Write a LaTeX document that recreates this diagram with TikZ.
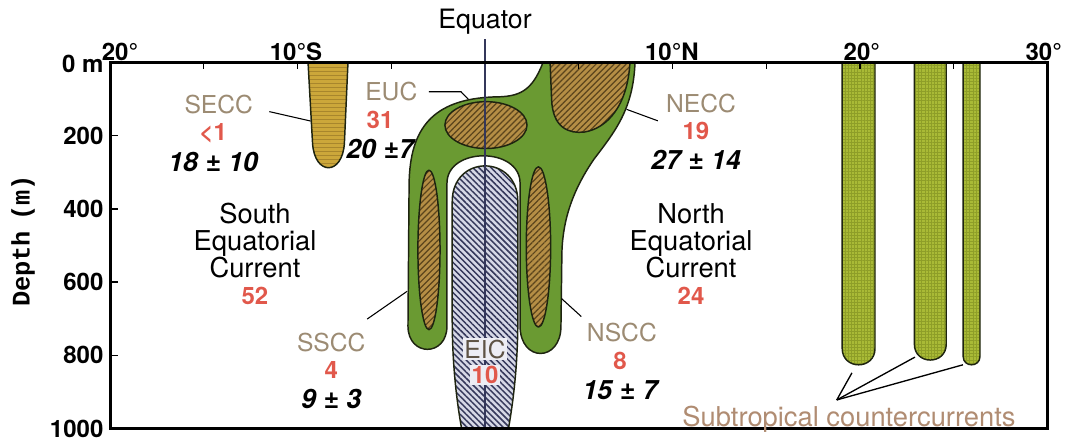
\documentclass[tikz,border=0pt]{standalone}
\usepackage{fontspec}
\setmainfont{TeX Gyre Heros}
\newfontfamily\assefont{Liberation Mono}
\usetikzlibrary{patterns.meta}

\definecolor{verdeCorr}{HTML}{6A9A32}
\definecolor{bronzo}{HTML}{B58E45}
\definecolor{bronzoScuro}{HTML}{5A441C}
\definecolor{ocra}{HTML}{CCA73A}
\definecolor{ocraScuro}{HTML}{A8862C}
\definecolor{oliva}{HTML}{A9BA36}
\definecolor{olivaScuro}{HTML}{8E9E28}
\definecolor{lavanda}{HTML}{D6D8E6}
\definecolor{bluInchiostro}{HTML}{34375A}
\definecolor{sabbia}{HTML}{9C8B73}
\definecolor{rossoPortata}{HTML}{E1584B}
\definecolor{rosaTitolo}{HTML}{B08C72}
\definecolor{bordo}{HTML}{1E2410}

\begin{document}
\begin{tikzpicture}[x=14.0625pt,y=-0.2745pt,
  contorno/.style={draw=bordo,line width=1.1pt,line join=round},
  nucleo/.style={contorno,preaction={fill=bronzo},
    pattern={Lines[angle=45,distance=3.2pt,line width=0.9pt]},pattern color=bronzoScuro},
  sigla/.style={text=sabbia,font=\fontsize{18.5}{20}\selectfont,inner sep=1pt},
  portata/.style={text=rossoPortata,font=\fontsize{18}{20}\selectfont\bfseries,inner sep=1pt},
  stima/.style={font=\fontsize{20}{22}\selectfont\bfseries\itshape,inner sep=1pt},
  descrizione/.style={align=center,font=\fontsize{20.5}{20.3}\selectfont},
  scala/.style={font=\fontsize{18}{20}\selectfont\bfseries,inner sep=2pt},
  guida/.style={line width=0.8pt}]

  % Ascissa in gradi di latitudine, ordinata in metri di profondita'
  \useasboundingbox (-25.87,-170.75) rectangle (31.04,1039.5);

  % Corpo verde: EUC in alto, due rami ai lati della EIC
  \draw[contorno,fill=verdeCorr] (3.09,0) -- (8.0,0)
    .. controls (7.9,130) and (6.9,190) .. (5.8,265)
    .. controls (4.8,340) and (4.15,420) .. (4.1,520)
    -- (4.05,720) .. controls (4.05,820) and (1.87,820) .. (1.87,720)
    -- (1.87,330) .. controls (1.87,230) and (-2.03,230) .. (-2.03,330)
    -- (-2.03,720) .. controls (-2.03,805) and (-4.11,805) .. (-4.11,720)
    -- (-4.05,330) .. controls (-4.0,180) and (-2.8,100) .. (0.5,94)
    .. controls (1.8,94) and (2.5,80) .. (3.09,0) -- cycle;

  % Nuclei tratteggiati
  \draw[nucleo] (0.05,171) ellipse (2.19 and 64);
  \draw[nucleo] (3.47,0) -- (3.55,100) .. controls (3.6,180) and (4.5,195) .. (5.3,190)
    .. controls (6.5,180) and (7.6,120) .. (7.73,0) -- cycle;
  \draw[nucleo] (-2.99,512) ellipse (0.59 and 218);
  \draw[nucleo] (2.85,504) ellipse (0.65 and 219);

  % Lingua intermedia, fino al fondo
  \draw[contorno,preaction={fill=lavanda},
    pattern={Lines[angle=-45,distance=3.2pt,line width=1.1pt]},pattern color=bluInchiostro]
    (-1.25,1000) .. controls (-1.6,900) and (-1.75,800) .. (-1.75,700) -- (-1.75,380)
    .. controls (-1.75,250) and (1.75,250) .. (1.75,380) -- (1.75,700)
    .. controls (1.75,800) and (1.6,900) .. (1.25,1000) -- cycle;

  % Tubo della SECC
  \draw[contorno,preaction={fill=ocra},
    pattern={Lines[angle=0,distance=3pt,line width=0.5pt]},pattern color=ocraScuro]
    (-9.44,0) -- (-9.2,220) .. controls (-9.1,310) and (-7.6,310) .. (-7.5,220) -- (-7.31,0) -- cycle;

  % Controcorrenti subtropicali
  \foreach \xa/\xb/\fondo in {19.05/20.8/826,22.9/24.6/813,25.5/26.4/826}{
    \pgfmathsetmacro{\raggio}{(\xb-\xa)*25.6}
    \draw[contorno,preaction={fill=oliva},
      pattern={Hatch[angle=0,distance=2.4pt,line width=0.3pt]},pattern color=olivaScuro]
      (\xa,0) -- (\xa,\fondo-\raggio) .. controls (\xa,\fondo+\raggio/3) and (\xb,\fondo+\raggio/3)
      .. (\xb,\fondo-\raggio) -- (\xb,0);
  }

  % Equatore
  \node[font=\fontsize{20}{22}\selectfont] (equatore) at (0,-111) {Equator};
  \draw[bluInchiostro,line width=0.9pt] (equatore.south) -- (0,1000);

  % Cornice, tacche e scale
  \draw[line width=2.2pt] (-20,0) rectangle (30,1000);
  \foreach \lat in {-15,-10,-5,5,10,15,20,25}
    \draw[line width=1pt] (\lat,0) -- (\lat,18);
  \foreach \prof in {200,400,600,800}
    \draw[line width=1pt] (-20,\prof) -- (-19.6,\prof);
  \foreach \lat/\testo [count=\i] in {-19.47/20°,-10.08/10°S,9.97/10°N,20.1/20°,29.8/30°}
    \node[scala] (lat\i) at (\lat,-29) {\testo};
  \foreach \prof/\testo [count=\i] in {4/0 m,200/200,400/400,600/600,800/800,1000/1000}
    \node[scala,anchor=east] (prof\i) at (-20.2,\prof) {\testo};
  \node[rotate=90,font=\assefont\bfseries\fontsize{19}{21}\selectfont] (profondita)
    at (-24.64,488) {Depth\hspace{0.4em}(m)};

  % Sigla, portata e stima di ogni controcorrente
  \foreach \nome/\val/\stima/\x/\y/\dx in {SECC/{<1}/{18 ± 10}/-14.5/116/0.3,
      EUC/31/{20 ±7}/-5.6/80/0.6,NECC/19/{27 ± 14}/11.25/111/0.27,
      SSCC/4/{9 ± 3}/-8.2/764/0,NSCC/8/{15 ± 7}/7.2/739/0.1}{
    \node[sigla] (\nome) at (\x+\dx,\y) {\nome};
    \node[portata] (\nome-v) at (\x,\y+76) {\val};
    \node[stima] (\nome-s) at (\x,\y+156) {\stima};
  }
  \foreach \lato/\x/\val in {South/-12.27/52,North/10.99/24}{
    \node[descrizione] (\lato) at (\x,487) {\lato\\Equatorial\\Current};
    \node[portata] (\lato-v) at (\x,638) {\val};
  }
  \node[sigla,text=sabbia!60!black,fill=lavanda!45!white] (EIC) at (0,783) {EIC};
  \node[portata,fill=lavanda!45!white] (EIC-v) at (0,854) {10};

  % Linee di richiamo
  \coordinate (secc tubo) at (-9.3,160);
  \coordinate (euc gomito) at (-1.28,80);
  \coordinate (euc punto) at (-0.9,100);
  \coordinate (necc punto) at (7.55,128);
  \coordinate (sscc punto) at (-4.15,625);
  \coordinate (nscc punto) at (4.08,645);
  \draw[guida] ([shift={(11pt,-5pt)}]SECC.east) -- (secc tubo);
  \draw[guida] ([xshift=7.5pt]EUC.east) -- (euc gomito) -- (euc punto);
  \draw[guida] ([shift={(-5pt,-5pt)}]NECC.south west) -- (necc punto);
  \draw[guida] ([yshift=9pt]SSCC.north east) -- (sscc punto);
  \draw[guida] ([shift={(-3pt,4pt)}]NSCC.north west) -- (nscc punto);

  % Ventaglio verso le tre controcorrenti subtropicali
  \node[text=rosaTitolo,font=\fontsize{20.5}{22}\selectfont] (subtropicali)
    at (19.41,974) {Subtropical countercurrents};
  \coordinate (punta) at (18.76,922);
  \coordinate (fondo1) at (19.57,848);
  \coordinate (fondo2) at (22.93,805);
  \coordinate (fondo3) at (25.49,826);
  \foreach \i in {1,2,3}
    \draw[guida,line width=1pt] (punta) -- (fondo\i);
\end{tikzpicture}
\end{document}
